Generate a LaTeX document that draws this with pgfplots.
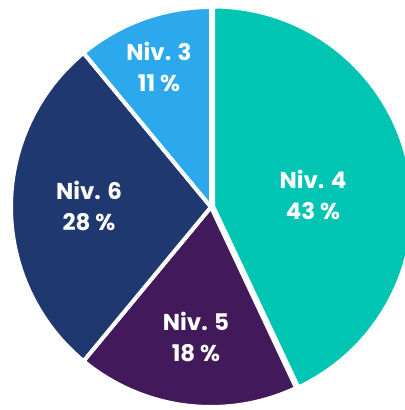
\documentclass[border=0pt]{standalone}
\usepackage{pgfplots}
\pgfplotsset{compat=1.18}
\usepackage{fontspec}
\setmainfont{Poppins}
\definecolor{cNivA}{HTML}{00C5B2}
\definecolor{cNivB}{HTML}{42195B}
\definecolor{cNivC}{HTML}{1F3970}
\definecolor{cNivD}{HTML}{2BA9EC}
\begin{document}
\begin{tikzpicture}
\begin{axis}[
  name=pie,
  scale only axis, width=405bp, height=410bp,
  xmin=-211, xmax=194, ymin=-203, ymax=207,
  axis lines=none, ticks=none,
  clip=true,
]
% Shares: Niv.4 43, Niv.5 18, Niv.6 28, Niv.3 11 (clockwise from top)
% Niv. 4 : 90 -> -64.8 (exploded slightly)
\addplot[fill=cNivA, draw=white, line width=4bp, domain=-64.8:90, samples=120, variable=\t]
  ({2.2+200*cos(t)},{0.5+200*sin(t)}) -- (axis cs:2.2,0.5) -- cycle;
% Niv. 5 : -64.8 -> -129.6
\addplot[fill=cNivB, draw=white, line width=4bp, domain=-129.6:-64.8, samples=60, variable=\t]
  ({200*cos(t)},{200*sin(t)}) -- (axis cs:0,0) -- cycle;
% Niv. 6 : -129.6 -> -230.4
\addplot[fill=cNivC, draw=white, line width=4bp, domain=-230.4:-129.6, samples=80, variable=\t]
  ({200*cos(t)},{200*sin(t)}) -- (axis cs:0,0) -- cycle;
% Niv. 3 : -230.4 -> -270
\addplot[fill=cNivD, draw=white, line width=4bp, domain=-270:-230.4, samples=40, variable=\t]
  ({200*cos(t)},{200*sin(t)}) -- (axis cs:0,0) -- cycle;
\tikzset{lab/.style={align=center, text=white, font=\bfseries\fontsize{23}{31}\selectfont}}
\node[lab] at (axis cs:102,12) {Niv. 4\\43 \%};
\node[lab] at (axis cs:-15,-130) {Niv. 5\\18 \%};
\node[lab] at (axis cs:-122,1) {Niv. 6\\28 \%};
\node[lab] at (axis cs:-52,140) {Niv. 3\\11 \%};
\end{axis}
\pgfresetboundingbox
\path (pie.south west) rectangle (pie.north east);
\end{tikzpicture}
\end{document}
